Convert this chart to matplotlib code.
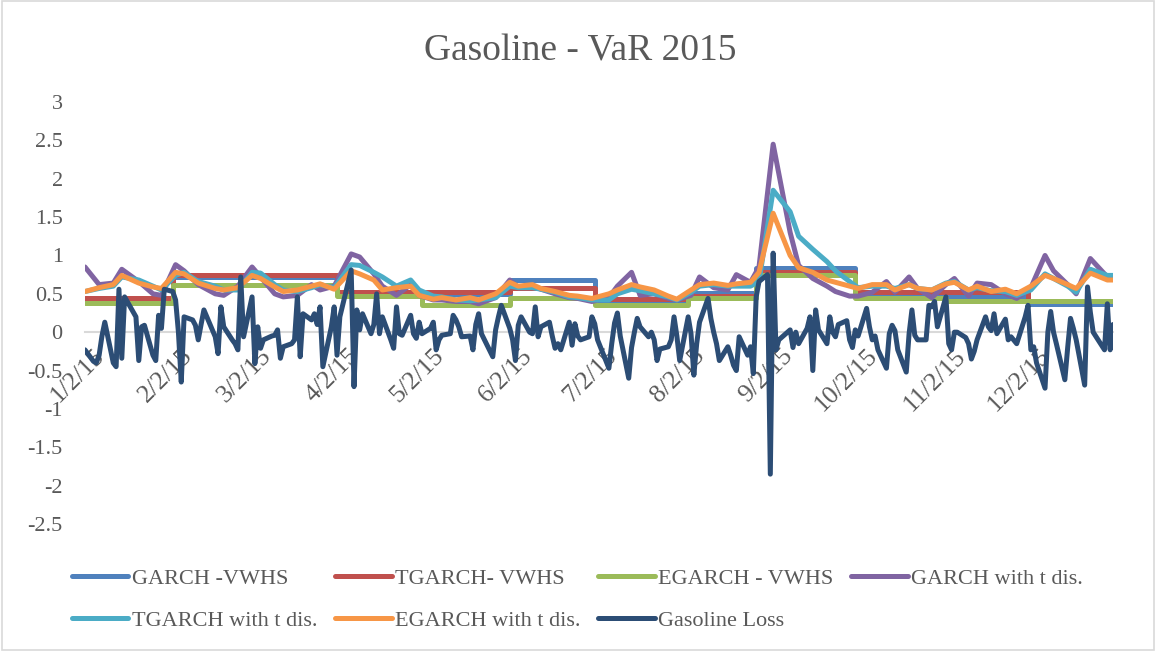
import numpy as np
import pandas as pd
import matplotlib
matplotlib.use("Agg")
import matplotlib.pyplot as plt
from matplotlib.patches import Rectangle
from matplotlib.transforms import ScaledTranslation

# trading calendar 2015
HOLIDAYS = ["2015-01-01", "2015-01-19", "2015-02-16", "2015-04-03", "2015-05-25",
            "2015-07-03", "2015-09-07", "2015-11-26", "2015-12-25"]
trading_days = pd.bdate_range("2015-01-02", "2015-12-31", freq="C", holidays=HOLIDAYS)

# daily gasoline loss
loss_jan = [-0.23, -0.38, -0.40, -0.30, -0.05, 0.13, -0.40, -0.45, 0.56, -0.34,
            0.46, 0.20, -0.37, 0.07, 0.09, -0.30, -0.37, 0.22, 0.05, 0.56]
loss_feb = [0.53, 0.42, 0.00, -0.65, 0.20, 0.16, 0.09, -0.10, 0.10, 0.29,
            -0.06, -0.28, 0.33, 0.07, -0.10, -0.15, -0.23, 0.72, -0.06]
loss_mar = [0.46, -0.41, 0.07, -0.21, -0.10, -0.05, -0.04, 0.03, -0.34, -0.19, -0.15,
            -0.10, 0.46, -0.32, 0.24, 0.16, 0.24, 0.10, 0.33, -0.45, 0.07, 0.33]
loss_apr = [-0.30, 0.20, 0.81, -0.71, 0.29, 0.03, 0.24, -0.02, 0.10, 0.50, -0.02,
            0.20, -0.10, -0.21, 0.33, -0.02, -0.04, 0.22, -0.02, -0.08, 0.13]
loss_may = [-0.02, 0.05, 0.13, -0.23, -0.10, -0.04, -0.02, 0.22, 0.16, 0.07,
            -0.06, -0.05, -0.23, 0.10, 0.24, -0.02, -0.32, 0.03, 0.20, 0.35]
loss_jun = [0.05, -0.10, -0.37, 0.09, 0.20, 0.00, -0.02, 0.33, -0.06, 0.07, 0.13,
            -0.05, -0.21, -0.15, -0.23, 0.13, -0.17, 0.11, -0.05, -0.10, -0.06, 0.20]
loss_jul = [0.11, -0.10, -0.47, -0.15, 0.12, 0.25, -0.05, -0.60, -0.20, 0.00, 0.18,
            0.07, -0.06, 0.00, -0.10, -0.37, -0.22, -0.19, -0.10, 0.20, -0.05, -0.37]
loss_aug = [0.20, -0.02, -0.56, -0.15, 0.13, 0.44, 0.18, 0.00, -0.15, -0.37, -0.19,
            -0.30, -0.43, -0.50, -0.06, -0.30, -0.19, -0.54, 0.46, 0.66, 0.75]
loss_sep = [-1.85, 1.03, -0.23, -0.10, 0.03, -0.20, 0.00, -0.15, 0.05, 0.20, -0.50,
            0.29, 0.03, -0.15, 0.20, 0.00, -0.06, 0.10, 0.15, -0.10, -0.20]
loss_oct = [0.03, -0.05, 0.31, 0.07, -0.10, -0.05, -0.23, -0.47, -0.02, 0.09, 0.02,
            -0.23, -0.52, -0.02, 0.29, -0.04, -0.10, -0.10, 0.35, 0.33, 0.40, 0.07]
loss_nov = [0.46, -0.15, -0.23, 0.00, 0.00, -0.07, -0.15, -0.35, -0.25, -0.10,
            0.20, 0.07, 0.02, 0.24, -0.02, 0.17, -0.10, -0.06, -0.15, 0.20]
loss_dec = [0.35, -0.23, -0.19, -0.40, -0.73, 0.00, 0.27, 0.00, -0.15, -0.62, -0.20,
            0.18, 0.05, -0.10, -0.69, 0.59, 0.26, 0.00, -0.23, 0.37, -0.23, 0.10]
gasoline_loss = (loss_jan + loss_feb + loss_mar + loss_apr + loss_may + loss_jun
                 + loss_jul + loss_aug + loss_sep + loss_oct + loss_nov + loss_dec)

# t-distribution VaR, read every third trading day (plus the last one)
t_idx = list(range(0, 252, 3)) + [251]
garch_t = [0.85, 0.62, 0.64, 0.82, 0.66, 0.50, 0.48,
           0.88, 0.80, 0.62, 0.50, 0.48, 0.60,
           0.85, 0.72, 0.50, 0.46, 0.48, 0.62, 0.55, 0.60,
           1.02, 0.98, 0.76, 0.60, 0.48, 0.62, 0.48,
           0.42, 0.42, 0.40, 0.40, 0.37, 0.45,
           0.68, 0.58, 0.60, 0.56, 0.50, 0.45, 0.44, 0.40,
           0.45, 0.60, 0.78, 0.48, 0.50, 0.44, 0.42,
           0.48, 0.72, 0.58, 0.55, 0.75, 0.65, 0.85,
           2.45, 1.30, 0.87, 0.70, 0.60, 0.53, 0.47,
           0.47, 0.52, 0.66, 0.52, 0.72, 0.57, 0.45,
           0.62, 0.70, 0.47, 0.64, 0.62, 0.50, 0.44,
           0.58, 1.00, 0.80, 0.62, 0.50, 0.96, 0.72, 0.70]
tgarch_t = [0.53, 0.57, 0.60, 0.72, 0.68, 0.60, 0.55,
            0.74, 0.78, 0.66, 0.60, 0.55, 0.55,
            0.78, 0.77, 0.62, 0.55, 0.53, 0.58, 0.62, 0.58,
            0.88, 0.87, 0.78, 0.72, 0.60, 0.68, 0.55,
            0.47, 0.46, 0.42, 0.41, 0.42, 0.45,
            0.60, 0.58, 0.58, 0.56, 0.52, 0.46, 0.45, 0.42,
            0.42, 0.50, 0.56, 0.54, 0.50, 0.46, 0.42,
            0.52, 0.60, 0.62, 0.60, 0.60, 0.60, 0.66,
            1.85, 1.57, 1.25, 1.08, 0.92, 0.80, 0.66,
            0.58, 0.60, 0.60, 0.57, 0.62, 0.57, 0.55,
            0.64, 0.66, 0.55, 0.58, 0.54, 0.53, 0.48,
            0.55, 0.76, 0.70, 0.60, 0.52, 0.82, 0.74, 0.74]
egarch_t = [0.53, 0.58, 0.62, 0.74, 0.64, 0.59, 0.57,
            0.78, 0.76, 0.64, 0.57, 0.55, 0.58,
            0.74, 0.70, 0.59, 0.53, 0.55, 0.60, 0.63, 0.56,
            0.80, 0.76, 0.68, 0.55, 0.58, 0.60, 0.48,
            0.43, 0.45, 0.42, 0.45, 0.42, 0.50,
            0.65, 0.60, 0.62, 0.57, 0.53, 0.48, 0.47, 0.44,
            0.50, 0.55, 0.62, 0.59, 0.55, 0.47, 0.43,
            0.55, 0.62, 0.64, 0.61, 0.63, 0.65, 0.78,
            1.55, 1.00, 0.84, 0.78, 0.68, 0.65, 0.60,
            0.57, 0.62, 0.62, 0.55, 0.62, 0.57, 0.55,
            0.63, 0.65, 0.55, 0.60, 0.53, 0.56, 0.50,
            0.60, 0.74, 0.70, 0.62, 0.57, 0.77, 0.68, 0.68]

# VWHS VaR is piecewise constant: segment start dates and level per segment
step_dates = ["2015-01-02", "2015-02-02", "2015-04-01", "2015-05-01", "2015-06-01",
              "2015-07-01", "2015-08-03", "2015-08-27", "2015-10-01", "2015-11-02",
              "2015-12-01", "2015-12-31"]
garch_vwhs = [0.43, 0.72, 0.50, 0.50, 0.68, 0.42, 0.51, 0.84, 0.50, 0.47, 0.37]
tgarch_vwhs = [0.45, 0.74, 0.52, 0.52, 0.57, 0.43, 0.47, 0.79, 0.53, 0.53, 0.40]
egarch_vwhs = [0.38, 0.61, 0.47, 0.35, 0.44, 0.35, 0.45, 0.75, 0.44, 0.40, 0.41]

x_labels = ["1/2/15", "2/2/15", "3/2/15", "4/2/15", "5/2/15", "6/2/15",
            "7/2/15", "8/2/15", "9/2/15", "10/2/15", "11/2/15", "12/2/15"]

TEXT = "#595959"
plt.rcParams["font.family"] = ["Liberation Serif", "DejaVu Serif"]

fig = plt.figure(figsize=(11.56, 6.51), dpi=100)
ax = fig.add_axes([0.0735, 0.1951, 0.8893, 0.6482])

sdates = pd.to_datetime(step_dates)
t_dates = trading_days[t_idx]
line_kw = dict(lw=3.6, solid_joinstyle="round", solid_capstyle="round")

ax.plot(sdates, garch_vwhs + garch_vwhs[-1:], drawstyle="steps-post",
        color="#4F81BD", label="GARCH -VWHS", **line_kw)
ax.plot(sdates, tgarch_vwhs + tgarch_vwhs[-1:], drawstyle="steps-post",
        color="#C0504D", label="TGARCH- VWHS", **line_kw)
ax.plot(sdates, egarch_vwhs + egarch_vwhs[-1:], drawstyle="steps-post",
        color="#9BBB59", label="EGARCH - VWHS", **line_kw)
ax.plot(t_dates, garch_t, color="#8064A2", label="GARCH with t dis.", **line_kw)
ax.plot(t_dates, tgarch_t, color="#4BACC6", label="TGARCH with t dis.", **line_kw)
ax.plot(t_dates, egarch_t, color="#F79646", label="EGARCH with t dis.", **line_kw)
ax.plot(trading_days[:len(gasoline_loss)], gasoline_loss, color="#2C4D75",
        label="Gasoline Loss", **line_kw)

# axis line through zero (set before tick labels: moving the spine resets ticks)
for s in ["top", "right", "left"]:
    ax.spines[s].set_visible(False)
ax.spines["bottom"].set_position(("data", 0))
ax.spines["bottom"].set_color("#D9D9D9")
ax.spines["bottom"].set_linewidth(1.5)
ax.spines["bottom"].set_zorder(0)

ax.set_xlim(pd.Timestamp("2015-01-02"), pd.Timestamp("2015-12-31"))
ax.set_ylim(-2.5, 3)
ax.set_yticks(np.arange(-2.5, 3.01, 0.5))
ax.set_yticklabels(["-2.5", "-2", "-1.5", "-1", "-0.5", "0", "0.5", "1",
                    "1.5", "2", "2.5", "3"])
ax.tick_params(axis="y", length=0, pad=16, labelsize=16, labelcolor=TEXT)
ax.tick_params(axis="x", length=0, pad=9, labelsize=18.5, labelcolor=TEXT)

tick_dates = pd.date_range("2015-01-01", periods=12, freq="MS") + pd.Timedelta(days=1)
ax.set_xticks(tick_dates)
ax.set_xticklabels(x_labels, rotation=45, ha="right", va="top",
                   rotation_mode="anchor")
shift = ScaledTranslation(6 / 72, 0, fig.dpi_scale_trans)
for lab in ax.get_xticklabels():
    lab.set_transform(lab.get_transform() + shift)

fig.suptitle("Gasoline - VaR 2015", x=0.502, y=0.948, fontsize=27, color=TEXT)

# legend laid out row by row like Excel: reorder for column-major filling
handles, labels = ax.get_legend_handles_labels()
order = [0, 4, 1, 5, 2, 6, 3]
fig.legend([handles[i] for i in order], [labels[i] for i in order], ncol=4,
           frameon=False, fontsize=16, labelcolor=TEXT, handlelength=2.55,
           handletextpad=0.15, columnspacing=0.8, labelspacing=0.95,
           borderpad=0, borderaxespad=0, loc="center left",
           bbox_to_anchor=(0.062, 0.079))

fig.patches.append(Rectangle((0.002, 0.002), 0.996, 0.996, transform=fig.transFigure,
                             fill=False, edgecolor="#D9D9D9", lw=1.2))

fig.savefig("out.png", dpi=100)
